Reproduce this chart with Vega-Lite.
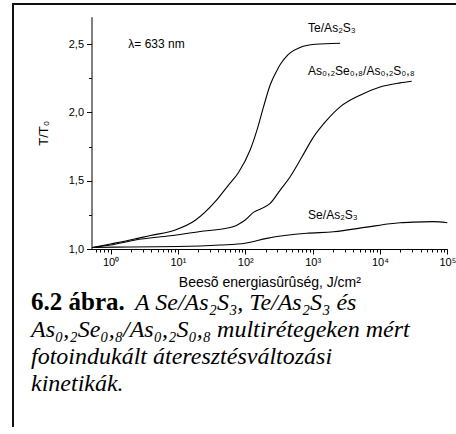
{
  "$schema": "https://vega.github.io/schema/vega-lite/v6.json",
  "width": 443,
  "height": 430,
  "autosize": {"type": "none"},
  "padding": {"left": 13, "top": 4, "right": 0, "bottom": 0},
  "background": "white",
  "view": {"stroke": "#111111", "strokeWidth": 2, "strokeDash": [443, 880, 432], "fill": "white"},
  "config": {"font": "Liberation Sans"},
  "datasets": {
    "curves": [
      {"series": "Te/As2S3", "E": 0.535, "T": 1.011},
      {"series": "Te/As2S3", "E": 1, "T": 1.037},
      {"series": "Te/As2S3", "E": 2.19, "T": 1.071},
      {"series": "Te/As2S3", "E": 3.88, "T": 1.099},
      {"series": "Te/As2S3", "E": 9.12, "T": 1.139},
      {"series": "Te/As2S3", "E": 18.1, "T": 1.21},
      {"series": "Te/As2S3", "E": 35.7, "T": 1.346},
      {"series": "Te/As2S3", "E": 56.3, "T": 1.468},
      {"series": "Te/As2S3", "E": 79.3, "T": 1.56},
      {"series": "Te/As2S3", "E": 118, "T": 1.724},
      {"series": "Te/As2S3", "E": 149, "T": 1.87},
      {"series": "Te/As2S3", "E": 186, "T": 2.038},
      {"series": "Te/As2S3", "E": 234, "T": 2.2},
      {"series": "Te/As2S3", "E": 294, "T": 2.305},
      {"series": "Te/As2S3", "E": 330, "T": 2.35},
      {"series": "Te/As2S3", "E": 400, "T": 2.405},
      {"series": "Te/As2S3", "E": 464, "T": 2.435},
      {"series": "Te/As2S3", "E": 653, "T": 2.475},
      {"series": "Te/As2S3", "E": 1089, "T": 2.498},
      {"series": "Te/As2S3", "E": 2560, "T": 2.506},
      {"series": "As0.2Se0.8/As0.2S0.8", "E": 0.535, "T": 1.011},
      {"series": "As0.2Se0.8/As0.2S0.8", "E": 1, "T": 1.029},
      {"series": "As0.2Se0.8/As0.2S0.8", "E": 2.32, "T": 1.066},
      {"series": "As0.2Se0.8/As0.2S0.8", "E": 7.7, "T": 1.097},
      {"series": "As0.2Se0.8/As0.2S0.8", "E": 21.4, "T": 1.128},
      {"series": "As0.2Se0.8/As0.2S0.8", "E": 50.4, "T": 1.15},
      {"series": "As0.2Se0.8/As0.2S0.8", "E": 70.8, "T": 1.168},
      {"series": "As0.2Se0.8/As0.2S0.8", "E": 84, "T": 1.188},
      {"series": "As0.2Se0.8/As0.2S0.8", "E": 99.7, "T": 1.212},
      {"series": "As0.2Se0.8/As0.2S0.8", "E": 132, "T": 1.268},
      {"series": "As0.2Se0.8/As0.2S0.8", "E": 174, "T": 1.296},
      {"series": "As0.2Se0.8/As0.2S0.8", "E": 234, "T": 1.334},
      {"series": "As0.2Se0.8/As0.2S0.8", "E": 330, "T": 1.431},
      {"series": "As0.2Se0.8/As0.2S0.8", "E": 464, "T": 1.529},
      {"series": "As0.2Se0.8/As0.2S0.8", "E": 692, "T": 1.673},
      {"series": "As0.2Se0.8/As0.2S0.8", "E": 1028, "T": 1.819},
      {"series": "As0.2Se0.8/As0.2S0.8", "E": 1625, "T": 1.943},
      {"series": "As0.2Se0.8/As0.2S0.8", "E": 2560, "T": 2.04},
      {"series": "As0.2Se0.8/As0.2S0.8", "E": 5070, "T": 2.126},
      {"series": "As0.2Se0.8/As0.2S0.8", "E": 10030, "T": 2.186},
      {"series": "As0.2Se0.8/As0.2S0.8", "E": 19860, "T": 2.216},
      {"series": "As0.2Se0.8/As0.2S0.8", "E": 29630, "T": 2.228},
      {"series": "Se/As2S3", "E": 0.535, "T": 1.011},
      {"series": "Se/As2S3", "E": 1.96, "T": 1.015},
      {"series": "Se/As2S3", "E": 10.1, "T": 1.018},
      {"series": "Se/As2S3", "E": 42.4, "T": 1.029},
      {"series": "Se/As2S3", "E": 99.7, "T": 1.042},
      {"series": "Se/As2S3", "E": 209, "T": 1.078},
      {"series": "Se/As2S3", "E": 820, "T": 1.115},
      {"series": "Se/As2S3", "E": 2037, "T": 1.126},
      {"series": "Se/As2S3", "E": 6370, "T": 1.16},
      {"series": "Se/As2S3", "E": 14130, "T": 1.185},
      {"series": "Se/As2S3", "E": 19860, "T": 1.192},
      {"series": "Se/As2S3", "E": 31300, "T": 1.197},
      {"series": "Se/As2S3", "E": 61950, "T": 1.2},
      {"series": "Se/As2S3", "E": 100000, "T": 1.192}
    ],
    "labels": [
      {"text": "Te/As₂S₃", "E": 857, "T": 2.615},
      {"text": "As₀,₂Se₀,₈/As₀,₂S₀,₈", "E": 857, "T": 2.3},
      {"text": "Se/As₂S₃", "E": 857, "T": 1.251},
      {"text": "λ= 633 nm", "E": 1.83, "T": 2.499}
    ],
    "caption": [
      {"line": 1, "kind": "label", "text": "6.2 ábra."},
      {"line": 1, "kind": "lead", "text": "A Se/As₂S₃, Te/As₂S₃ és"},
      {"line": 2, "kind": "body", "text": "As₀,₂Se₀,₈/As₀,₂S₀,₈ multirétegeken mért"},
      {"line": 3, "kind": "body", "text": "fotoindukált áteresztésváltozási"},
      {"line": 4, "kind": "body", "text": "kinetikák."}
    ]
  },
  "layer": [
    {
      "layer": [
        {
          "data": {"name": "curves"},
          "mark": {"type": "line", "color": "black", "strokeWidth": 1.1, "interpolate": "monotone"},
          "encoding": {
            "x": {
              "field": "E",
              "type": "quantitative",
              "scale": {"type": "log", "domain": [0.52, 100000], "range": [78.5, 434.3], "nice": false},
              "axis": {
                "orient": "bottom",
                "offset": -185,
                "grid": false,
                "values": [0.6, 0.7, 0.8, 0.9, 1, 2, 3, 4, 5, 6, 7, 8, 9, 10, 20, 30, 40, 50, 60, 70, 80, 90, 100, 200, 300, 400, 500, 600, 700, 800, 900, 1000, 2000, 3000, 4000, 5000, 6000, 7000, 8000, 9000, 10000, 20000, 30000, 40000, 50000, 60000, 70000, 80000, 90000, 100000],
                "labelExpr": "abs(log(datum.value)/LN10 - round(log(datum.value)/LN10)) < 1e-6 ? '10' + ['⁰','¹','²','³','⁴','⁵'][round(log(datum.value)/LN10)] : ''",
                "labelOverlap": false,
                "labelFlush": false,
                "labelFontSize": 11,
                "labelColor": "black",
                "labelPadding": 2,
                "tickSize": {"condition": {"test": "abs(log(datum.value)/LN10 - round(log(datum.value)/LN10)) < 1e-6", "value": 5}, "value": 3},
                "tickColor": "black",
                "domainColor": "black",
                "title": "Beesõ energiasûrûség, J/cm²",
                "titleFontSize": 14,
                "titleFontWeight": "normal",
                "titleColor": "black",
                "titlePadding": 8
              }
            },
            "y": {
              "field": "T",
              "type": "quantitative",
              "scale": {"domain": [1, 2.7], "range": [245, 12.7], "zero": false, "nice": false},
              "axis": {
                "orient": "left",
                "offset": -78.5,
                "grid": false,
                "values": [1, 1.25, 1.5, 1.75, 2, 2.25, 2.5],
                "labelExpr": "round(datum.value*2) == datum.value*2 ? replace(format(datum.value, '.1f'), '.', ',') : ''",
                "labelOverlap": false,
                "labelFontSize": 11,
                "labelColor": "black",
                "labelPadding": 3,
                "tickSize": {"condition": {"test": "round(datum.value*2) == datum.value*2", "value": 5}, "value": 3},
                "tickColor": "black",
                "domainColor": "black",
                "title": "T/T₀",
                "titleFontSize": 13,
                "titleFontWeight": "normal",
                "titleColor": "black",
                "titlePadding": 18
              }
            },
            "detail": {"field": "series"}
          }
        },
        {
          "data": {"name": "labels"},
          "mark": {"type": "text", "align": "left", "baseline": "middle", "fontSize": 12, "color": "black"},
          "encoding": {
            "x": {"field": "E", "type": "quantitative"},
            "y": {"field": "T", "type": "quantitative"},
            "text": {"field": "text"}
          }
        }
      ]
    },
    {
      "data": {"name": "caption"},
      "encoding": {
        "x": {"datum": 0, "type": "quantitative", "scale": {"domain": [0, 1], "range": [18, 461]}, "axis": null},
        "y": {"field": "line", "type": "quantitative", "scale": {"domain": [1, 4], "range": [306, 387], "zero": false, "nice": false}, "axis": null},
        "text": {"field": "text"}
      },
      "layer": [
        {
          "transform": [{"filter": "datum.kind === 'label'"}],
          "mark": {"type": "text", "align": "left", "baseline": "alphabetic", "font": "Liberation Serif", "fontSize": 25, "fontWeight": "bold", "color": "black"}
        },
        {
          "transform": [{"filter": "datum.kind === 'lead'"}],
          "mark": {"type": "text", "align": "left", "baseline": "alphabetic", "dx": 104, "font": "Liberation Serif", "fontSize": 24, "fontStyle": "italic", "color": "black"}
        },
        {
          "transform": [{"filter": "datum.kind === 'body'"}],
          "mark": {"type": "text", "align": "left", "baseline": "alphabetic", "font": "Liberation Serif", "fontSize": 24, "fontStyle": "italic", "color": "black"}
        }
      ]
    }
  ],
  "resolve": {"scale": {"x": "independent", "y": "independent"}}
}
